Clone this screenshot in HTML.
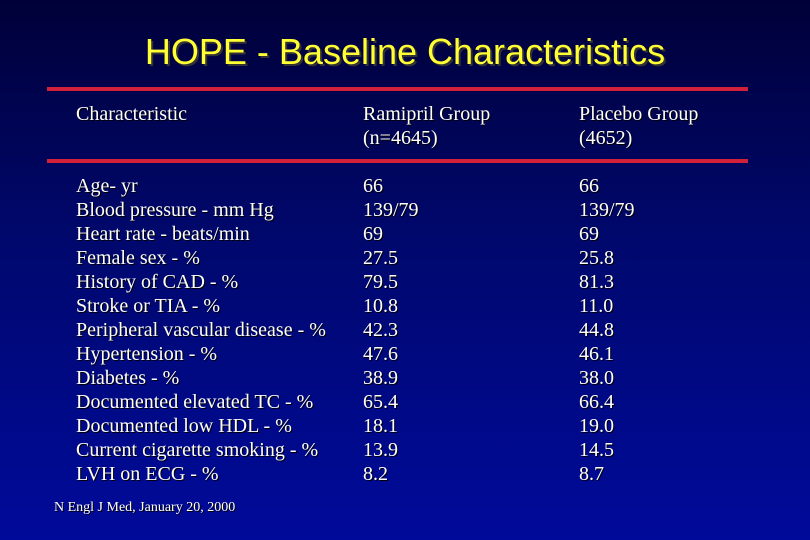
<!DOCTYPE html>
<html><head><meta charset="utf-8"><style>
html,body{margin:0;padding:0}
body{width:810px;height:540px;position:relative;overflow:hidden;background:linear-gradient(180deg,#000038 0%,#00086e 45%,#000a9a 100%);font-family:"Liberation Serif",serif;color:#fff}
.t{position:absolute;white-space:nowrap;font-size:20px;line-height:24px;text-shadow:1px 1px 0 #000;letter-spacing:0}
.line{position:absolute;left:47px;width:701px;height:4px;background:#d0203a}
#title{position:absolute;left:0;width:810px;top:30px;text-align:center;font-family:"Liberation Sans",sans-serif;font-size:36px;line-height:44px;color:#ffff33;text-shadow:2px 2px 0 #333}
</style></head><body>
<div id="title">HOPE - Baseline Characteristics</div>
<div class="line" style="top:87px"></div>
<div class="line" style="top:159px"></div>
<div class="t" style="left:76px;top:102px">Characteristic</div>
<div class="t" style="left:363px;top:102px">Ramipril Group<br>(n=4645)</div>
<div class="t" style="left:579px;top:102px">Placebo Group<br>(4652)</div>
<div class="t" style="left:76px;top:174px">Age- yr<br>Blood pressure - mm Hg<br>Heart rate - beats/min<br>Female sex - %<br>History of CAD - %<br>Stroke or TIA - %<br>Peripheral vascular disease - %<br>Hypertension - %<br>Diabetes - %<br>Documented elevated TC - %<br>Documented low HDL - %<br>Current cigarette smoking - %<br>LVH on ECG - %</div>
<div class="t" style="left:363px;top:174px">66<br>139/79<br>69<br>27.5<br>79.5<br>10.8<br>42.3<br>47.6<br>38.9<br>65.4<br>18.1<br>13.9<br>8.2</div>
<div class="t" style="left:579px;top:174px">66<br>139/79<br>69<br>25.8<br>81.3<br>11.0<br>44.8<br>46.1<br>38.0<br>66.4<br>19.0<br>14.5<br>8.7</div>
<div class="t" style="left:54px;top:498px;font-size:14px;line-height:20px">N Engl J Med, January 20, 2000</div>
</body></html>
